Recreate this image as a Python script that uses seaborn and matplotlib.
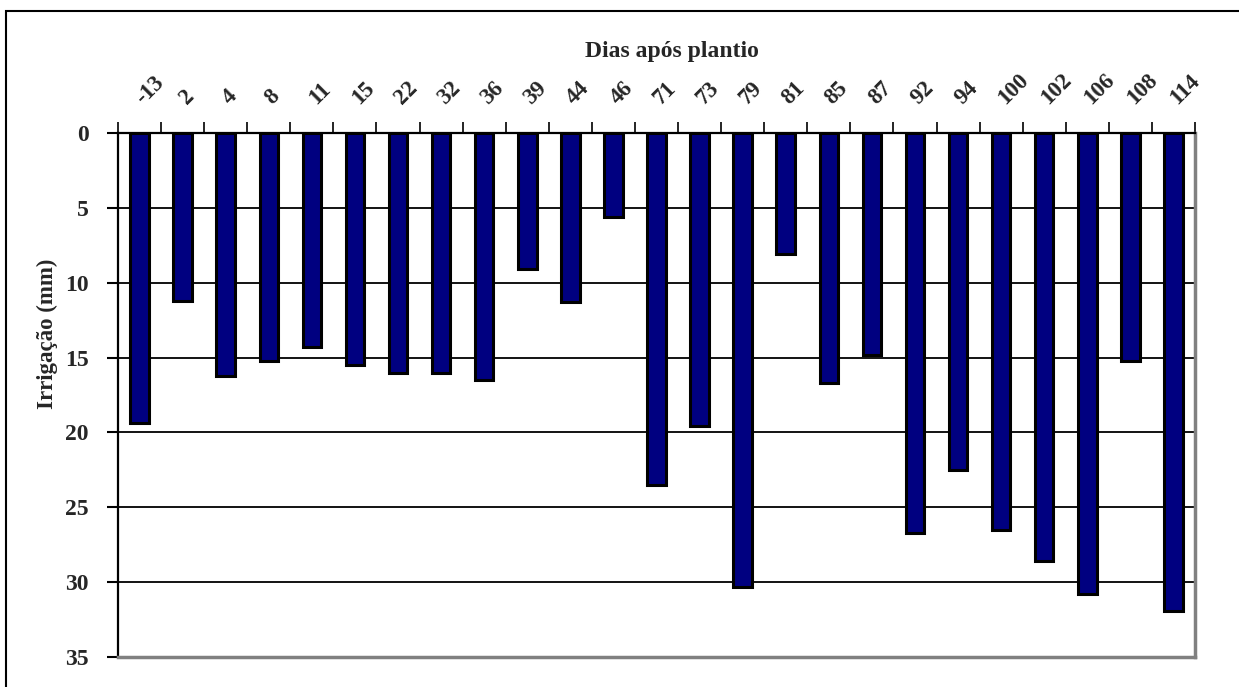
import matplotlib
matplotlib.use("Agg")
import matplotlib.pyplot as plt
from matplotlib.patches import Rectangle
from matplotlib.ticker import FixedLocator
import seaborn as sns
import pandas as pd

# Days after planting and irrigation depth (mm)
dias = ["-13", "2", "4", "8", "11", "15", "22", "32", "36", "39", "44", "46",
        "71", "73", "79", "81", "85", "87", "92", "94", "100", "102", "106", "108", "114"]
irrigacao = [19.4, 11.2, 16.2, 15.2, 14.3, 15.5, 16.0, 16.0, 16.5, 9.1, 11.3, 5.6,
             23.5, 19.6, 30.3, 8.1, 16.7, 14.8, 26.7, 22.5, 26.5, 28.6, 30.8, 15.2, 31.9]
y_ticks = [0, 5, 10, 15, 20, 25, 30, 35]

df = pd.DataFrame({"dia": dias, "irrigacao": irrigacao})

sns.set_theme(style="white")
plt.rcParams["font.family"] = ["Liberation Serif", "DejaVu Serif"]
plt.rcParams["font.weight"] = "bold"

fig = plt.figure(figsize=(12.39, 6.87), dpi=100)
ax = fig.add_axes([118 / 1239, 1 - 657 / 687, (1195 - 118) / 1239, (657 - 133) / 687])

sns.barplot(data=df, x="dia", y="irrigacao", order=dias, color="#000080",
            saturation=1, edgecolor="black", linewidth=2.2, width=0.43, ax=ax, zorder=3)

ax.set_ylim(35, 0)
ax.set_xlim(-0.5, len(dias) - 0.5)
ax.set_yticks(y_ticks)
ax.set_yticklabels([str(t) for t in y_ticks], fontsize=17, fontweight="bold")
for t in y_ticks[1:-1]:
    ax.axhline(t, color="black", lw=1.3, zorder=1)

# category axis on top, rotated labels, ticks between categories
ax.xaxis.tick_top()
ax.xaxis.set_label_position("top")
ax.set_xticks(range(len(dias)))
ax.set_xticklabels(dias, fontsize=16.5, fontweight="bold", rotation=45,
                   ha="left", va="center", rotation_mode="anchor")
ax.xaxis.set_minor_locator(FixedLocator([i - 0.5 for i in range(len(dias) + 1)]))
ax.tick_params(axis="x", which="major", length=0, pad=23)
ax.tick_params(axis="x", which="minor", length=8, width=1.2, color="black", top=True)
ax.tick_params(axis="y", which="major", length=8, width=1.5, color="black", left=True, pad=13)

ax.set_xlabel("Dias após plantio", fontsize=17, fontweight="bold", va="center")
ax.xaxis.set_label_coords((672 - 118) / 1077, (657 - 52) / 524)
ax.set_ylabel("Irrigação (mm)", fontsize=16.5, fontweight="bold", va="center")
ax.yaxis.set_label_coords((47 - 118) / 1077, (657 - 334) / 524)

for side in ["left", "top"]:
    ax.spines[side].set_color("black")
    ax.spines[side].set_linewidth(1.6)
for side in ["right", "bottom"]:
    ax.spines[side].set_color("#808080")
    ax.spines[side].set_linewidth(2.5)
ax.set_facecolor("white")

# outer chart frame
fig.add_artist(Rectangle((6 / 1239, -0.2), 1.2, 1 - 11 / 687 + 0.2,
                         transform=fig.transFigure, fill=False,
                         edgecolor="black", lw=1.5, clip_on=False))

fig.savefig("out.png", dpi=100, facecolor="white")
